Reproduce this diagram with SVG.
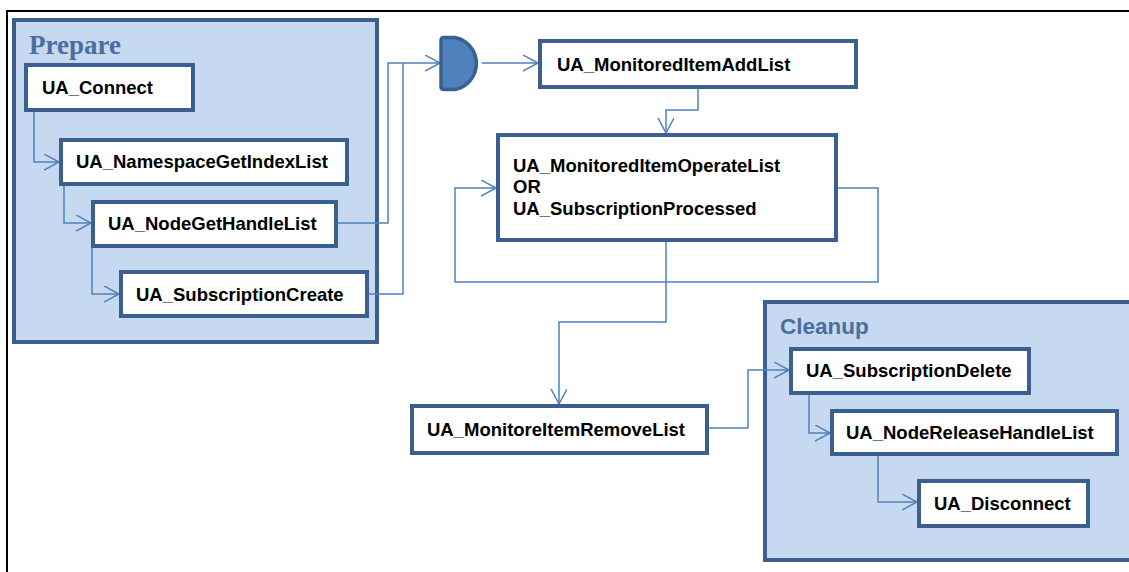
<svg xmlns="http://www.w3.org/2000/svg" width="1129" height="572" viewBox="0 0 1129 572">
<defs>
<marker id="arr" markerWidth="18" markerHeight="18" refX="15" refY="8" orient="auto" markerUnits="userSpaceOnUse">
<path d="M0,0 L15,8 L0,16" fill="none" stroke="#4f81bd" stroke-width="1.5"/>
</marker>
</defs>
<style>
.grp{fill:#c6d9f0;stroke:#3b6090;stroke-width:4}
.box{fill:#ffffff;stroke:#3b6090;stroke-width:4}
.t{font-family:"Liberation Sans",Arial,sans-serif;font-weight:bold;font-size:18.5px;fill:#000}
.c{fill:none;stroke:#4f81bd;stroke-width:1.5}
</style>
<rect width="1129" height="572" fill="#ffffff"/>
<path d="M7,572 V11 H1129" fill="none" stroke="#000" stroke-width="2"/>

<g id="prepare">
<rect class="grp" x="14" y="20" width="363" height="322"/>
<text x="29" y="54" font-family="'Liberation Serif','Times New Roman',serif" font-weight="bold" font-size="27" fill="#4a6ea0">Prepare</text>
</g>
<g id="cleanup">
<rect class="grp" x="765" y="302" width="366" height="258"/>
<text x="780" y="334" font-family="'Liberation Sans',Arial,sans-serif" font-weight="bold" font-size="22.5" fill="#4a6ea0">Cleanup</text>
</g>

<g id="connectors">
<path class="c" d="M34,111 V162 H59" marker-end="url(#arr)"/>
<path class="c" d="M64,185 V223 H91" marker-end="url(#arr)"/>
<path class="c" d="M92,247 V294 H119" marker-end="url(#arr)"/>
<path class="c" d="M337,223 H388 V63 H440" marker-end="url(#arr)"/>
<path class="c" d="M368,294 H403 V63"/>
<path class="c" d="M482,63 H538" marker-end="url(#arr)"/>
<path class="c" d="M698,88 V110 H666 V133" marker-end="url(#arr)"/>
<path class="c" d="M837,188 H878 V282 H455 V188 H496" marker-end="url(#arr)"/>
<path class="c" d="M666,241 V322 H559 V404" marker-end="url(#arr)"/>
<path class="c" d="M708,428 H748 V370 H789" marker-end="url(#arr)"/>
<path class="c" d="M809,394 V433 H830" marker-end="url(#arr)"/>
<path class="c" d="M878,455 V502 H917" marker-end="url(#arr)"/>
</g>

<g id="gate">
<path d="M444,37.5 H455 A26.5,26.5 0 0 1 455,89.5 H444 Q441,89.5 441,86.5 V40.5 Q441,37.5 444,37.5 Z" fill="#4f81bd" stroke="#3b6090" stroke-width="3.5"/>
</g>

<g id="ua_connect">
<rect class="box" x="26" y="65" width="167" height="45"/>
<text class="t" x="42" y="94">UA_Connect</text>
</g>
<g id="ua_namespace">
<rect class="box" x="61" y="140" width="286" height="44"/>
<text class="t" x="76" y="168">UA_NamespaceGetIndexList</text>
</g>
<g id="ua_nodegethandle">
<rect class="box" x="93" y="202" width="243" height="44"/>
<text class="t" x="108" y="230">UA_NodeGetHandleList</text>
</g>
<g id="ua_subscriptioncreate">
<rect class="box" x="121" y="272" width="246" height="44"/>
<text class="t" x="136" y="301">UA_SubscriptionCreate</text>
</g>
<g id="ua_monitoreditemaddlist">
<rect class="box" x="540" y="41" width="316" height="46"/>
<text class="t" x="557" y="71">UA_MonitoredItemAddList</text>
</g>
<g id="ua_operate">
<rect class="box" x="498" y="135" width="338" height="105"/>
<text class="t" x="513" y="172">UA_MonitoredItemOperateList</text>
<text class="t" x="513" y="193">OR</text>
<text class="t" x="513" y="215">UA_SubscriptionProcessed</text>
</g>
<g id="ua_removelist">
<rect class="box" x="412" y="406" width="295" height="47"/>
<text class="t" x="427" y="436">UA_MonitoreItemRemoveList</text>
</g>
<g id="ua_subscriptiondelete">
<rect class="box" x="791" y="349" width="238" height="44"/>
<text class="t" x="806" y="377">UA_SubscriptionDelete</text>
</g>
<g id="ua_nodereleasehandle">
<rect class="box" x="832" y="411" width="285" height="43"/>
<text class="t" x="846" y="439">UA_NodeReleaseHandleList</text>
</g>
<g id="ua_disconnect">
<rect class="box" x="919" y="481" width="169" height="45"/>
<text class="t" x="934" y="510">UA_Disconnect</text>
</g>
</svg>
